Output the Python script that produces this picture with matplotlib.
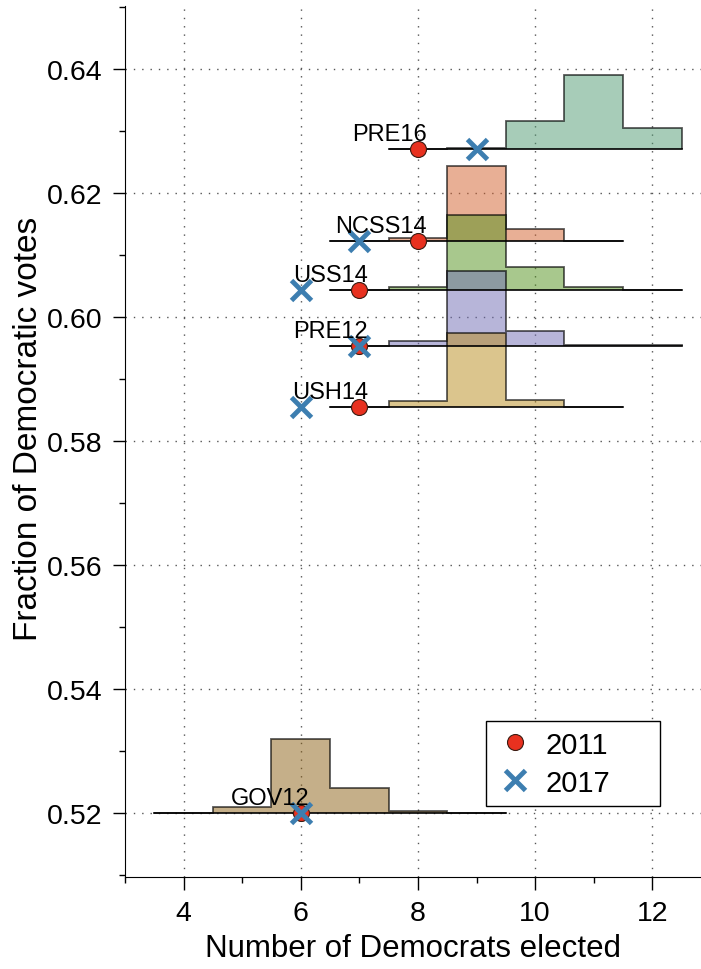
#!/usr/bin/python3
import numpy as np
import matplotlib
matplotlib.use('Agg')
import matplotlib.pyplot as plt

plt.rcParams['font.family'] = ['Liberation Sans', 'DejaVu Sans']

# elections, ordered top to bottom
names = ['PRE16', 'NCSS14', 'USS14', 'PRE12', 'USH14', 'GOV12']
vote_frac = [0.6271, 0.6123, 0.6044, 0.5954, 0.5855, 0.5200]
seats_2011 = [8, 8, 7, 7, 7, 6]
seats_2017 = [9, 7, 6, 7, 6, 6]

# ensemble histograms: first bin centre + relative frequencies (max = 1)
first_bin = [8, 7, 7, 7, 7, 4]
hist_pre16 = [0, 0.014, 0.378, 1.0, 0.284]
hist_ncss14 = [0, 0.04, 1.0, 0.16, 0]
hist_uss14 = [0, 0.04, 1.0, 0.31, 0.04, 0]
hist_pre12 = [0, 0.06, 1.0, 0.19, 0.014, 0.005]
hist_ush14 = [0, 0.085, 1.0, 0.095, 0]
hist_gov12 = [0, 0.08, 1.0, 0.34, 0.03, 0]
hists = [hist_pre16, hist_ncss14, hist_uss14, hist_pre12, hist_ush14, hist_gov12]

colors = ['#519b73', '#d3612d', '#53931d', '#716db5', '#b98d1d', '#8d6115']
hist_scale = 0.012


def plot():
    fig = plt.figure(figsize=(7.01, 9.70), dpi=100)
    ax = fig.add_axes([0.1783, 0.0948, 0.8217, 0.8983])

    for name, y, b0, h, c in zip(names, vote_frac, first_bin, hists, colors):
        h = np.array(h)
        edges = np.arange(len(h) + 1) + b0 - 0.5
        ax.stairs(y + h * hist_scale, edges, baseline=y, fill=True,
                  facecolor=matplotlib.colors.to_rgba(c, 0.5),
                  edgecolor=(0, 0, 0, 0.65), linewidth=1.3, zorder=2)
        ax.plot([edges[0], edges[-1]], [y, y], color='black', linewidth=1.2, zorder=3)

    ax.plot(seats_2011, vote_frac, 'o', color='#e8311f', markersize=11.5,
            markeredgecolor='#3a1a10', markeredgewidth=0.8, label='2011', zorder=4)
    ax.plot(seats_2017, vote_frac, 'x', color='#3d7eb0', markersize=15,
            markeredgewidth=3.5, label='2017', zorder=5)

    for name, y, x in zip(names, vote_frac, seats_2011):
        ax.text(x + 0.15, y + 0.00145, name, ha='right', va='baseline',
                fontsize=17, zorder=6)

    ax.set_xlim(3, 12.83)
    ax.set_ylim(0.5097, 0.6502)
    ax.set_xticks([4, 6, 8, 10, 12])
    ax.set_xticks([3, 5, 7, 9, 11], minor=True)
    ax.set_yticks([0.52, 0.54, 0.56, 0.58, 0.60, 0.62, 0.64])
    ax.set_yticks(np.arange(0.51, 0.651, 0.01), minor=True)
    ax.set_yticklabels(['0.52', '0.54', '0.56', '0.58', '0.60', '0.62', '0.64'])
    ax.tick_params(which='major', direction='out', length=9, width=1,
                   labelsize=20.5, pad=7.5)
    ax.tick_params(which='minor', direction='out', length=4.5, width=1)
    ax.spines['top'].set_visible(False)
    ax.spines['right'].set_visible(False)
    ax.grid(which='major', linestyle=(0, (1, 5)), color='#555555', linewidth=1)
    ax.set_axisbelow(True)

    ax.set_xlabel('Number of Democrats elected', fontsize=22.5)
    ax.xaxis.set_label_coords(0.5, -0.064)
    ax.set_ylabel('Fraction of Democratic votes', fontsize=24)
    ax.yaxis.set_label_coords(-0.14, 0.515)

    leg = ax.legend(loc='upper left', bbox_to_anchor=(0.6265, 0.169, 0.3026, 0.01),
                    mode='expand', borderaxespad=0, fontsize=21,
                    frameon=True, fancybox=False, framealpha=1, edgecolor='black',
                    borderpad=0.33, handlelength=1.34, handletextpad=0.38,
                    labelspacing=0.34)
    leg.get_frame().set_linewidth(1)

    fig.savefig('out.png', dpi=100)


if __name__ == '__main__':
    plot()
